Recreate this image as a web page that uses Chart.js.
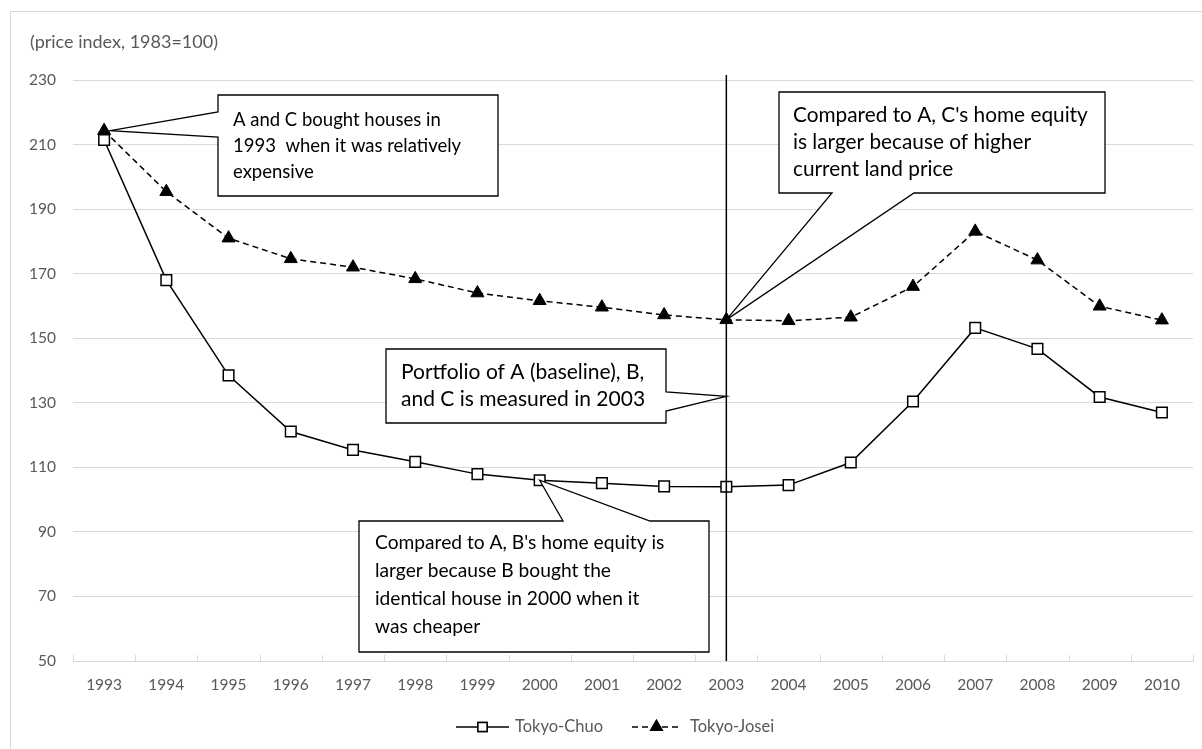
<!DOCTYPE html>
<html>
<head>
<meta charset="utf-8">
<title>Tokyo land price index</title>
<script src="https://cdn.jsdelivr.net/npm/chart.js@4/dist/chart.umd.min.js"></script>
<style>
  html, body { margin: 0; padding: 0; background: #ffffff; overflow: hidden; }
  #wrap { width: 1202px; height: 749px; }
</style>
</head>
<body>
<div id="wrap"><canvas id="landChart" width="1202" height="749"></canvas></div>
<script>
// Data
const years = ['1993', '1994', '1995', '1996', '1997', '1998', '1999', '2000', '2001',
               '2002', '2003', '2004', '2005', '2006', '2007', '2008', '2009', '2010'];
const tokyoChuo = [211.4, 168, 138.5, 121.1, 115.4, 111.7, 107.9, 106, 105.1,
                   104.1, 104, 104.5, 111.5, 130.4, 153.2, 146.7, 131.8, 127];
const tokyoJosei = [214.3, 195.4, 181, 174.6, 172, 168.4, 164, 161.6, 159.6,
                    157.2, 155.7, 155.4, 156.5, 166, 183.1, 174.2, 159.9, 155.6];
const yTicks = [50, 70, 90, 110, 130, 150, 170, 190, 210, 230];
const axisTitle = '(price index, 1983=100)';
const markYear = '2003';
const markLevel = 132;   // where the "Portfolio" note points on the 2003 line

const textGrey = '#595959';
const gridGrey = '#d9d9d9';
const fontFamily = 'Lato, "Open Sans", sans-serif';

// Note boxes (pixel layout), each points at a value on the chart
const notes = [
    {
        lines: ['A and C bought houses in', '1993  when it was relatively', 'expensive'],
        box: [218, 95, 498, 196], textX: 233, firstLine: 120, lineGap: 26, size: 18.5,
        side: 'left', notch: [112, 137],
        target: { series: 1, index: 0, dx: 6 }
    },
    {
        lines: ["Compared to A, C's home equity", 'is larger because of higher', 'current land price'],
        box: [779, 92, 1105, 193], textX: 793, firstLine: 115, lineGap: 27, size: 20.8,
        side: 'bottom', notch: [832, 914],
        target: { series: 1, index: 10, dx: 0 }
    },
    {
        lines: ['Portfolio of A (baseline), B,', 'and C is measured in 2003'],
        box: [386, 349, 666, 423], textX: 401, firstLine: 372, lineGap: 27, size: 21,
        side: 'right', notch: [392, 411],
        target: { line: true }
    },
    {
        lines: ["Compared to A, B's home equity is", 'larger because B bought the',
                'identical house in 2000 when it', 'was cheaper'],
        box: [359, 521, 709, 652], textX: 375, firstLine: 543, lineGap: 28, size: 19.2,
        side: 'top', notch: [563, 650],
        target: { series: 0, index: 7, dx: 0 }
    }
];

function notePath(ctx, n, tx, ty) {
    const [x0, y0, x1, y1] = n.box;
    const [a, b] = n.notch;
    ctx.beginPath();
    if (n.side === 'left') {
        ctx.moveTo(x0, y0); ctx.lineTo(x1, y0); ctx.lineTo(x1, y1); ctx.lineTo(x0, y1);
        ctx.lineTo(x0, b); ctx.lineTo(tx, ty); ctx.lineTo(x0, a);
    } else if (n.side === 'right') {
        ctx.moveTo(x0, y0); ctx.lineTo(x1, y0); ctx.lineTo(x1, a); ctx.lineTo(tx, ty);
        ctx.lineTo(x1, b); ctx.lineTo(x1, y1); ctx.lineTo(x0, y1);
    } else if (n.side === 'bottom') {
        ctx.moveTo(x0, y0); ctx.lineTo(x1, y0); ctx.lineTo(x1, y1); ctx.lineTo(b, y1);
        ctx.lineTo(tx, ty); ctx.lineTo(a, y1); ctx.lineTo(x0, y1);
    } else {
        ctx.moveTo(x0, y0); ctx.lineTo(a, y0); ctx.lineTo(tx, ty); ctx.lineTo(b, y0);
        ctx.lineTo(x1, y0); ctx.lineTo(x1, y1); ctx.lineTo(x0, y1);
    }
    ctx.closePath();
}

const decorPlugin = {
    id: 'decor',
    beforeDraw(chart) {
        const ctx = chart.ctx;
        ctx.save();
        ctx.fillStyle = '#ffffff';
        ctx.fillRect(0, 0, chart.width, chart.height);
        // outer chart frame
        ctx.strokeStyle = gridGrey;
        ctx.lineWidth = 1;
        ctx.strokeRect(10.5, 11.5, 1300, 900);
        // axis title
        ctx.fillStyle = textGrey;
        ctx.font = '18px ' + fontFamily;
        ctx.textAlign = 'left';
        ctx.textBaseline = 'middle';
        ctx.fillText(axisTitle, 30, 42);
        ctx.restore();
    },
    afterDatasetsDraw(chart) {
        const ctx = chart.ctx;
        const x = chart.scales.x, y = chart.scales.y;
        const area = chart.chartArea;
        ctx.save();
        // small category ticks on the x axis (pointing up)
        ctx.strokeStyle = gridGrey;
        ctx.lineWidth = 1;
        const step = (area.right - area.left) / years.length;
        for (let i = 0; i <= years.length; i++) {
            const px = Math.round(area.left + i * step) + 0.5;
            ctx.beginPath();
            ctx.moveTo(px, area.bottom);
            ctx.lineTo(px, area.bottom - 6);
            ctx.stroke();
        }
        // vertical 2003 line
        const lx = x.getPixelForValue(years.indexOf(markYear));
        ctx.strokeStyle = '#000000';
        ctx.lineWidth = 1.5;
        ctx.beginPath();
        ctx.moveTo(lx, area.top - 5);
        ctx.lineTo(lx, area.bottom);
        ctx.stroke();

        // notes
        notes.forEach(n => {
            let tx, ty;
            if (n.target.line) {
                tx = lx;
                ty = y.getPixelForValue(markLevel);
            } else {
                const pt = chart.getDatasetMeta(n.target.series).data[n.target.index];
                tx = pt.x + n.target.dx;
                ty = pt.y;
            }
            notePath(ctx, n, tx, ty);
            ctx.fillStyle = '#ffffff';
            ctx.fill();
            ctx.strokeStyle = '#000000';
            ctx.lineWidth = 1.3;
            ctx.stroke();
            ctx.fillStyle = '#000000';
            ctx.font = n.size + 'px ' + fontFamily;
            ctx.textAlign = 'left';
            ctx.textBaseline = 'middle';
            n.lines.forEach((t, i) => ctx.fillText(t, n.textX, n.firstLine + i * n.lineGap));
        });
        ctx.restore();
    },
    afterDraw(chart) {
        // legend: line sample with marker in the middle
        const ctx = chart.ctx;
        const items = [
            { ds: chart.data.datasets[0], x0: 456, x1: 509, tx: 515 },
            { ds: chart.data.datasets[1], x0: 632, x1: 681, tx: 690 }
        ];
        const ly = 727;
        ctx.save();
        items.forEach(it => {
            ctx.strokeStyle = '#000000';
            ctx.lineWidth = 1.5;
            ctx.setLineDash(it.ds.borderDash || []);
            ctx.beginPath();
            ctx.moveTo(it.x0, ly);
            ctx.lineTo(it.x1, ly);
            ctx.stroke();
            ctx.setLineDash([]);
            Chart.helpers.drawPoint(ctx, {
                pointStyle: it.ds.pointStyle,
                radius: 6.5,
                borderWidth: 1.5
            }, (it.x0 + it.x1) / 2, ly);
            ctx.fillStyle = it.ds.pointBackgroundColor;
            ctx.strokeStyle = '#000000';
            ctx.lineWidth = 1.5;
            ctx.fill();
            ctx.stroke();
            ctx.fillStyle = textGrey;
            ctx.font = '16.5px ' + fontFamily;
            ctx.textAlign = 'left';
            ctx.textBaseline = 'middle';
            ctx.fillText(it.ds.label, it.tx, ly);
        });
        ctx.restore();
    }
};

const ctx = document.getElementById('landChart').getContext('2d');
new Chart(ctx, {
    type: 'line',
    data: {
        labels: years,
        datasets: [
            {
                label: 'Tokyo-Chuo',
                data: tokyoChuo,
                borderColor: '#000000',
                borderWidth: 1.5,
                pointStyle: 'rect',
                pointRadius: 7.5,
                pointBorderWidth: 1.5,
                pointBackgroundColor: '#ffffff',
                pointBorderColor: '#000000',
                tension: 0
            },
            {
                label: 'Tokyo-Josei',
                data: tokyoJosei,
                borderColor: '#000000',
                borderWidth: 1.5,
                borderDash: [6, 4],
                pointStyle: 'triangle',
                pointRadius: 7.5,
                pointBorderWidth: 1,
                pointBackgroundColor: '#000000',
                pointBorderColor: '#000000',
                tension: 0
            }
        ]
    },
    options: {
        responsive: false,
        animation: false,
        devicePixelRatio: 1,
        layout: { padding: { left: 0, top: 80, right: 9, bottom: 0 } },
        plugins: {
            legend: { display: false },
            tooltip: { enabled: false }
        },
        scales: {
            x: {
                offset: true,
                border: { display: true, color: gridGrey, width: 1 },
                grid: { display: false, drawTicks: false },
                ticks: {
                    color: textGrey,
                    font: { family: fontFamily, size: 15.5 },
                    padding: 15,
                    maxRotation: 0,
                    autoSkip: false
                },
                afterFit(scale) { scale.height = 88; }
            },
            y: {
                min: 50,
                max: 230,
                afterBuildTicks(scale) { scale.ticks = yTicks.map(v => ({ value: v })); },
                border: { display: false },
                grid: { color: gridGrey, lineWidth: 1, drawTicks: false },
                ticks: {
                    color: textGrey,
                    font: { family: fontFamily, size: 15.5 },
                    padding: 17
                },
                afterFit(scale) { scale.width = 73; }
            }
        }
    },
    plugins: [decorPlugin]
});
</script>
</body>
</html>
